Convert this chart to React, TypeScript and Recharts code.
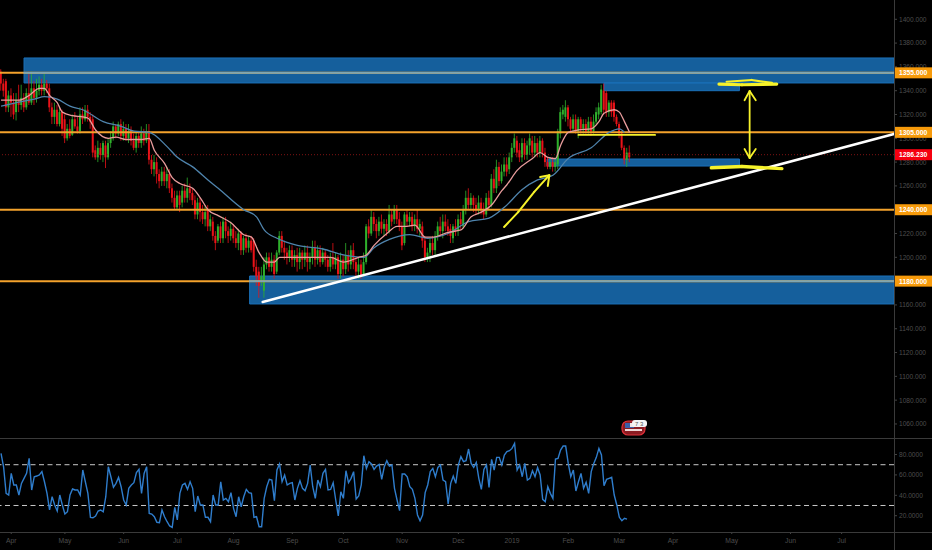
import React from "react";
import {
  ComposedChart,
  Bar,
  Line,
  XAxis,
  YAxis,
  ReferenceLine,
  ReferenceArea,
} from "recharts";

// daily candles, bar 0 is the first bar at the left edge
const opens = [
  1356,1346,1348,1326,1336,1330,1322,1332,1328,1334,
  1326,1338,1330,1342,1334,1340,1345,1340,1346,1342,
  1326,1318,1324,1312,1322,1316,1300,1308,1303,1316,
  1310,1306,1320,1316,1324,1318,1316,1290,1284,1292,
  1286,1294,1284,1296,1300,1310,1304,1312,1302,1308,
  1300,1306,1298,1292,1302,1296,1304,1298,1306,1282,
  1274,1280,1270,1264,1272,1264,1270,1258,1250,1242,
  1252,1246,1256,1250,1258,1254,1248,1236,1246,1238,
  1232,1240,1226,1230,1218,1214,1226,1216,1230,1222,
  1218,1224,1216,1212,1220,1206,1216,1208,1214,1214,
  1192,1188,1180,1172,1194,1200,1192,1198,1188,1204,
  1218,1208,1204,1200,1206,1198,1202,1196,1204,1198,
  1204,1196,1200,1208,1198,1206,1196,1204,1198,1192,
  1200,1194,1200,1186,1198,1190,1202,1194,1206,1196,
  1188,1194,1186,1196,1226,1220,1234,1228,1222,1230,
  1224,1228,1222,1236,1232,1240,1232,1226,1212,1236,
  1230,1234,1226,1232,1224,1226,1214,1200,1204,1212,
  1206,1218,1226,1222,1230,1226,1224,1216,1226,1222,
  1232,1226,1240,1250,1244,1250,1244,1240,1246,1240,
  1236,1250,1244,1266,1258,1276,1264,1272,1278,1274,
  1284,1292,1298,1290,1284,1296,1286,1294,1298,1288,
  1296,1288,1298,1288,1280,1276,1280,1276,1278,1304,
  1320,1318,1326,1316,1308,1316,1306,1316,1308,1312,
  1306,1314,1306,1314,1320,1322,1340,1338,1322,1330,
  1330,1318,1312,1304,1292,1282,1288,
];
const closes = [
  1346,1340,1326,1336,1330,1320,1332,1328,1334,1326,
  1338,1330,1342,1334,1340,1345,1340,1346,1342,1326,
  1318,1324,1312,1322,1308,1300,1308,1302,1316,1310,
  1306,1320,1316,1324,1318,1314,1288,1284,1292,1286,
  1296,1284,1296,1300,1310,1304,1312,1302,1308,1300,
  1306,1298,1292,1302,1296,1304,1298,1306,1282,1274,
  1280,1270,1264,1272,1264,1270,1258,1250,1242,1252,
  1244,1256,1250,1258,1254,1248,1236,1246,1238,1232,
  1238,1226,1232,1218,1212,1226,1216,1230,1222,1218,
  1224,1216,1212,1220,1206,1216,1208,1214,1206,1192,
  1184,1176,1184,1194,1200,1192,1198,1186,1204,1218,
  1208,1204,1200,1206,1198,1202,1196,1204,1198,1204,
  1196,1200,1208,1198,1206,1196,1204,1198,1192,1200,
  1194,1200,1186,1198,1190,1202,1194,1206,1196,1188,
  1194,1184,1196,1226,1220,1234,1228,1222,1230,1224,
  1228,1222,1236,1230,1240,1232,1226,1210,1236,1230,
  1234,1226,1232,1224,1228,1214,1200,1204,1212,1206,
  1218,1226,1222,1230,1226,1222,1218,1226,1222,1232,
  1228,1240,1250,1244,1250,1244,1240,1246,1240,1236,
  1250,1244,1266,1258,1276,1264,1272,1278,1272,1284,
  1292,1300,1288,1284,1296,1286,1294,1300,1288,1296,
  1288,1298,1288,1280,1276,1280,1276,1280,1306,1322,
  1324,1326,1316,1308,1316,1306,1316,1308,1312,1306,
  1314,1306,1314,1322,1326,1341,1324,1322,1330,1322,
  1318,1312,1304,1292,1282,1288,1284,
];
const highs = [
  1358,1350,1350,1340,1342,1338,1338,1345,1345,1338,
  1342,1356,1356,1348,1350,1352,1350,1354,1349,1346,
  1330,1330,1328,1326,1324,1320,1312,1316,1320,1322,
  1318,1326,1326,1328,1328,1322,1320,1294,1298,1296,
  1298,1298,1300,1306,1314,1312,1314,1316,1314,1312,
  1312,1310,1304,1306,1306,1310,1308,1312,1312,1286,
  1286,1284,1274,1276,1276,1276,1274,1262,1256,1256,
  1256,1260,1262,1267,1262,1258,1252,1250,1250,1244,
  1244,1244,1236,1234,1222,1228,1230,1234,1234,1226,
  1230,1228,1222,1224,1222,1218,1220,1218,1218,1216,
  1198,1192,1192,1200,1204,1204,1204,1202,1206,1222,
  1222,1214,1208,1210,1210,1206,1208,1208,1206,1210,
  1210,1204,1214,1214,1210,1210,1208,1206,1202,1204,
  1212,1204,1202,1204,1202,1212,1206,1210,1212,1200,
  1200,1198,1204,1228,1232,1240,1238,1232,1234,1236,
  1232,1232,1244,1240,1244,1244,1238,1230,1238,1240,
  1238,1238,1236,1240,1232,1230,1218,1208,1216,1218,
  1222,1230,1234,1236,1236,1232,1228,1228,1232,1236,
  1238,1244,1256,1258,1254,1252,1250,1252,1250,1246,
  1254,1256,1270,1274,1282,1280,1278,1284,1284,1288,
  1296,1304,1302,1296,1300,1300,1298,1304,1302,1302,
  1300,1302,1300,1292,1284,1284,1284,1284,1308,1326,
  1328,1332,1328,1318,1320,1320,1318,1318,1316,1316,
  1318,1318,1320,1326,1330,1345,1346,1340,1332,1332,
  1332,1320,1314,1306,1294,1292,1294,
];
const lows = [
  1340,1335,1322,1322,1318,1316,1315,1322,1324,1322,
  1324,1328,1328,1328,1330,1336,1336,1336,1338,1322,
  1312,1312,1310,1310,1302,1296,1298,1300,1302,1308,
  1304,1304,1312,1314,1314,1308,1284,1282,1280,1282,
  1280,1275,1282,1292,1298,1300,1302,1298,1298,1298,
  1296,1294,1290,1288,1292,1292,1294,1296,1278,1270,
  1268,1262,1258,1260,1260,1258,1254,1246,1240,1240,
  1238,1242,1246,1246,1248,1244,1232,1232,1230,1228,
  1226,1222,1222,1214,1206,1212,1212,1212,1216,1212,
  1214,1212,1208,1206,1202,1202,1204,1204,1204,1188,
  1176,1166,1176,1166,1190,1188,1188,1182,1186,1202,
  1204,1198,1194,1196,1192,1192,1188,1190,1190,1192,
  1188,1190,1194,1192,1194,1192,1194,1192,1188,1188,
  1190,1190,1182,1182,1184,1186,1188,1190,1190,1184,
  1182,1182,1184,1194,1216,1218,1222,1216,1218,1220,
  1218,1218,1220,1226,1228,1228,1222,1206,1210,1226,
  1226,1222,1222,1220,1218,1208,1196,1196,1196,1202,
  1202,1214,1218,1216,1222,1218,1212,1212,1218,1218,
  1224,1224,1236,1240,1240,1238,1236,1236,1236,1232,
  1234,1240,1242,1254,1254,1260,1262,1268,1268,1270,
  1280,1288,1284,1280,1280,1282,1282,1286,1284,1284,
  1284,1284,1284,1276,1274,1274,1272,1272,1274,1300,
  1316,1314,1310,1306,1306,1304,1300,1304,1304,1304,
  1304,1302,1304,1312,1316,1320,1320,1318,1318,1318,
  1314,1310,1300,1290,1278,1276,1280,
];

// moving averages at their turning points: [bar, price]
const fastMa: [number, number][] = [
  [0,1332],[7,1332],[11,1336],[15,1342],[17,1342],[19,1336],[22,1330],[24,1322],[28,1319],
  [32,1318],[34,1317],[37,1307],[42,1300],[45,1301],[49,1299],[55,1299],[58,1300],[60,1290],
  [64,1279],[67,1267],[70,1262],[75,1258],[78,1250],[81,1240],[85,1235],[90,1229],[95,1219],
  [98,1217],[101,1204],[104,1196],[107,1196],[109,1200],[115,1200],[122,1200],[129,1200],
  [134,1196],[140,1200],[143,1202],[146,1210],[151,1220],[155,1226],[158,1226],[162,1227],
  [166,1217],[169,1217],[175,1221],[180,1223],[184,1234],[188,1238],[192,1244],[196,1256],
  [198,1261],[202,1273],[208,1283],[211,1288],[214,1284],[217,1283],[219,1294],[222,1305],
  [226,1307],[231,1308],[234,1314],[236,1321],[240,1324],[242,1322],[244,1314],[246,1305],
];
const slowMa: [number, number][] = [
  [0,1327],[6,1330],[13,1333],[17,1335],[22,1333],[27,1327],[32,1324],[40,1314],[47,1310],
  [52,1306],[58,1305],[65,1293],[69,1284],[75,1276],[81,1265],[85,1258],[95,1240],[100,1234],
  [103,1223],[108,1216],[116,1210],[126,1207],[134,1202],[142,1200],[146,1208],[152,1215],
  [160,1219],[167,1216],[175,1220],[183,1230],[191,1233],[197,1242],[204,1257],[210,1265],
  [216,1269],[222,1283],[231,1292],[238,1305],[242,1308],[244,1305],
];

const rsiValues = [
  81.1,68,41.9,40.3,61.5,50.1,50.1,40.3,51.7,56.6,
  61.5,76.2,45.2,58.2,58.9,59.9,63.2,53.3,41.9,25.6,
  38.6,30.5,24.6,40.3,30.5,21.6,23.9,40.3,46.2,45.2,
  45.2,40.3,64.8,53.3,41.9,18.4,18,19.7,24.6,25.6,
  23.9,38.6,68,58.2,47.8,51.7,57.6,48.4,35.4,30.5,
  46.8,50.1,52.4,62.2,65.4,41.9,61.5,68,22.3,21.6,
  19,13.5,13.1,25.6,19,14.1,9.9,8.6,28.2,15.8,
  41.9,50.1,51.7,45.8,53.3,46.8,23.9,39.3,30.5,30.5,
  18.4,18.4,14.1,40.3,30.5,30.5,53.3,35.4,37,33.7,
  42.6,27.2,19,38.6,28.8,38.6,45.8,42.6,41.9,18.4,
  19,9.2,9.2,37,48.4,55.6,55,34.7,64.8,70.7,
  53.3,59.9,50.1,51.7,52.4,35.4,46.8,54.3,46.8,44.5,
  51.7,69.7,48.4,37,55,48.4,61.5,65.4,45.2,
  45.8,52.4,35.4,19.7,43.5,37,64.1,52.4,56.6,63.2,
  36.4,39.3,50.1,78.8,66.4,73,70.7,65.4,68.7,70.3,
  55.6,68,73.9,68.7,69.7,46.8,35.4,24.9,60.9,60.9,
  58.2,48.4,45.8,37,20.7,15.1,20.7,42.6,50.1,63.2,
  66.4,58.2,67.4,69.7,55,53.3,31.5,51.7,58.9,51.7,
  69.7,77.9,73,73.9,85.4,71.3,67.4,72.3,56.6,45.8,
  65.4,69.7,47.8,75.2,64.8,77.2,77.2,69.7,79.5,82.8,
  83.7,86,90.9,64.8,69.7,58.2,71.3,55,56.6,64.1,
  58.2,67.1,59.9,36,33.7,48.4,41.9,37,75.6,76.2,
  84.4,88.3,88.3,71.3,58.2,64.8,44.2,53.3,61.5,46.8,
  52.7,41.9,63.2,71.3,77.2,86,79.5,49.4,55.6,56.6,
  57.6,40.3,30.5,18.4,15.1,17.4,16.7,
];

const monthBars = [4, 25, 48, 69, 91, 114, 134, 157, 179, 200, 222, 242, 263, 286, 309, 329];
const monthLabels = ["Apr", "May", "Jun", "Jul", "Aug", "Sep", "Oct", "Nov", "Dec", "2019", "Feb", "Mar", "Apr", "May", "Jun", "Jul"];

const priceTicks = [1400, 1380, 1360, 1340, 1320, 1300, 1280, 1260, 1220, 1200, 1160, 1140, 1120, 1100, 1080, 1060];
const orangeLevels = [1355, 1305, 1240, 1180];
const lastPrice = 1286.23;
const rsiTicks = [80, 60, 40, 20];
const rsiBands = [70, 30];

const WIDTH = 932;
const MAIN_HEIGHT = 438;
const RSI_HEIGHT = 112;
const AXIS_WIDTH = 38;
const BAR_DOMAIN: [number, number] = [-0.4, 349.5];

const GREEN = "#2fb02c";
const RED = "#ea1218";
const BOX_BLUE = "#1766a8";
const YELLOW = "#f6f22a";
const AXIS_TEXT = "#4d4d4d";
const FONT = "'Liberation Sans', Arial, sans-serif";

const maLookup = (pts: [number, number][]) => new Map(pts.map(([b, v]) => [b, v]));
const fastByBar = maLookup(fastMa);
const slowByBar = maLookup(slowMa);

const rows = closes.map((close, i) => ({
  bar: i,
  open: opens[i],
  close,
  range: [lows[i], highs[i]],
  fast: fastByBar.get(i) ?? null,
  slow: slowByBar.get(i) ?? null,
}));

const rsiRows = rsiValues.map((rsi, i) => ({ bar: i, rsi }));

// body and wick from the pixel box the bar scale gives for [low, high]
const Candle = (props: any) => {
  const { x, y, width, height, payload } = props;
  const [low, high] = payload.range;
  const perUnit = height / (high - low || 1);
  const top = y + (high - Math.max(payload.open, payload.close)) * perUnit;
  const bodyH = Math.max(Math.abs(payload.open - payload.close) * perUnit, 1);
  const color = payload.close >= payload.open ? GREEN : RED;
  const mid = x + width / 2;
  return (
    <g>
      <line x1={mid} x2={mid} y1={y} y2={y + height} stroke={color} strokeWidth={0.8} />
      <rect x={x} y={top} width={width} height={bodyH} fill={color} />
    </g>
  );
};

const PriceTick = (props: any) => {
  const { x, y, payload } = props;
  const v = payload.value;
  const isOrange = orangeLevels.includes(v);
  const isLast = v === lastPrice;
  if (isOrange || isLast) {
    return (
      <g>
        <rect x={x - 5} y={y - 5.5} width={38} height={11} fill={isLast ? "#f5000f" : "#f79a0a"} />
        <text x={x} y={y + 2.4} fontSize={6.8} fontFamily={FONT} fontWeight={700} fill="#fff">
          {v.toFixed(3)}
        </text>
      </g>
    );
  }
  return (
    <text x={x} y={y + 2.4} fontSize={6.6} fontFamily={FONT} fill={AXIS_TEXT}>
      {v.toFixed(3)}
    </text>
  );
};

const RsiTick = (props: any) => {
  const { x, y, payload } = props;
  return (
    <text x={x} y={y + 2.4} fontSize={6.6} fontFamily={FONT} fill={AXIS_TEXT}>
      {payload.value.toFixed(4)}
    </text>
  );
};

// hand drawn marks, in [bar, price]
const polyline = (key: string, pts: number[][], stroke: string, width: number) =>
  pts.slice(1).map((p, i) => (
    <ReferenceLine
      key={`${key}-${i}`}
      segment={[
        { x: pts[i][0], y: pts[i][1] },
        { x: p[0], y: p[1] },
      ]}
      stroke={stroke}
      strokeWidth={width}
      strokeLinecap="round"
    />
  ));

const MONTH_LABEL = new Map(monthBars.map((b, i) => [b, monthLabels[i]]));

const Badge = () => (
  <svg style={{ position: "absolute", left: 620, top: 418 }} width={30} height={20}>
    <rect x={2} y={3} width={23} height={14} rx={6} fill="#8b1c22" stroke="#e0303a" strokeWidth={1.2} />
    <rect x={5} y={5} width={9} height={5} fill="#3b5fa8" />
    <rect x={10} y={5} width={12} height={4} fill="#f2e4e4" />
    <rect x={5} y={11} width={17} height={2} fill="#f0d8d8" />
    <rect x={12} y={2} width={15} height={7} rx={3} fill="#f4f4f4" />
    <text x={15} y={8} fontSize={6} fontFamily={FONT} fill="#555">7 3</text>
  </svg>
);

export default function App() {
  return (
    <div style={{ position: "relative", width: WIDTH, height: 550, background: "#000", overflow: "hidden" }}>
      <style>{"body{margin:0;background:#000}"}</style>
      <ComposedChart
        width={WIDTH}
        height={MAIN_HEIGHT}
        data={rows}
        margin={{ top: 0, right: 0, bottom: 0, left: 0 }}
        barCategoryGap={0}
      >
        <XAxis dataKey="bar" type="number" domain={BAR_DOMAIN} allowDataOverflow hide />
        <YAxis
          orientation="right"
          width={AXIS_WIDTH}
          domain={[1048.2, 1416.2]}
          allowDataOverflow
          ticks={[...priceTicks, ...orangeLevels, lastPrice]}
          interval={0}
          axisLine={false}
          tickLine={{ stroke: "#444" }}
          tickSize={3}
          tickMargin={2}
          tick={<PriceTick />}
        />
        {orangeLevels.map((lvl) => (
          <ReferenceLine key={lvl} y={lvl} stroke="#f3a22c" strokeWidth={2} />
        ))}
        <ReferenceLine y={lastPrice} stroke="#a01818" strokeWidth={0.8} strokeDasharray="1 2" />
        <Bar dataKey="range" barSize={2} shape={<Candle />} activeBar={false} isAnimationActive={false} />
        <Line dataKey="slow" type="monotone" connectNulls dot={false} activeDot={false} stroke="#4f84ad" strokeWidth={1.3} isAnimationActive={false} />
        <Line dataKey="fast" type="monotone" connectNulls dot={false} activeDot={false} stroke="#e89c9c" strokeWidth={1.3} isAnimationActive={false} />

        <ReferenceArea x1={9} x2={349.5} y1={1346.5} y2={1367.5} fill={BOX_BLUE} fillOpacity={0.93} stroke="#1b70b8" />
        <ReferenceArea x1={236} x2={289} y1={1340} y2={1346.5} fill={BOX_BLUE} fillOpacity={0.93} stroke="#1b70b8" />
        <ReferenceArea x1={213.7} x2={289} y1={1276.7} y2={1282.6} fill={BOX_BLUE} fillOpacity={0.93} stroke="#1b70b8" />
        <ReferenceArea x1={97.3} x2={349.5} y1={1160.8} y2={1184.3} fill={BOX_BLUE} fillOpacity={0.93} stroke="#1b70b8" />
        {polyline("g1", [[9, 1355], [349.5, 1355]], "#7ea6b3", 1.6)}
        {polyline("g2", [[97.3, 1180], [349.5, 1180]], "#7ea6b3", 1.6)}

        {polyline("trend", [[102.4, 1162.5], [349.5, 1303.6]], "#ffffff", 2.5)}
        {polyline("hline", [[226, 1302.8], [256, 1302.8]], YELLOW, 1.8)}
        {polyline("arrow", [[196.9, 1225.5], [202.4, 1238], [208.7, 1255], [214.6, 1269]], YELLOW, 2)}
        {polyline("arrowHead", [[211, 1267.5], [214.6, 1269], [214, 1260]], YELLOW, 2)}
        {polyline("range", [[293, 1339.7], [293, 1283.4]], YELLOW, 1.8)}
        {polyline("rangeTop", [[291, 1332], [293, 1339.7], [295.4, 1332]], YELLOW, 1.8)}
        {polyline("rangeBot", [[291, 1291], [293, 1283.4], [295.4, 1291]], YELLOW, 1.8)}
        {polyline("scribA", [[281, 1345.6], [290, 1345], [303.6, 1345.6]], YELLOW, 3.2)}
        {polyline("scribA2", [[284, 1347.5], [293.8, 1349], [301.7, 1346.5]], YELLOW, 2.2)}
        {polyline("scribB", [[278, 1275.2], [290, 1276.3], [305.6, 1274.5]], YELLOW, 3.4)}
      </ComposedChart>

      <div style={{ position: "absolute", left: 0, top: MAIN_HEIGHT }}>
        <ComposedChart
          width={WIDTH}
          height={RSI_HEIGHT}
          data={rsiRows}
          margin={{ top: 0, right: 0, bottom: 0, left: 0 }}
        >
          <XAxis
            dataKey="bar"
            type="number"
            domain={BAR_DOMAIN}
            allowDataOverflow
            ticks={monthBars}
            interval={0}
            height={18}
            axisLine={false}
            tickLine={{ stroke: "#444" }}
            tickSize={2}
            tickMargin={4}
            tick={{ fontSize: 6.8, fontFamily: FONT, fill: AXIS_TEXT }}
            tickFormatter={(b: number) => MONTH_LABEL.get(b) ?? ""}
          />
          <YAxis
            orientation="right"
            width={AXIS_WIDTH}
            domain={[4, 96.2]}
            allowDataOverflow
            ticks={rsiTicks}
            interval={0}
            axisLine={false}
            tickLine={{ stroke: "#444" }}
            tickSize={3}
            tickMargin={2}
            tick={<RsiTick />}
          />
          {rsiBands.map((b) => (
            <ReferenceLine key={b} y={b} stroke="#c8c8c8" strokeWidth={1} strokeDasharray="5 3.5" />
          ))}
          <Line dataKey="rsi" type="linear" dot={false} activeDot={false} stroke="#2f7dcc" strokeWidth={1.4} isAnimationActive={false} />
        </ComposedChart>
      </div>

      {/* pane separators and price scale border */}
      <div style={{ position: "absolute", left: 0, top: MAIN_HEIGHT, width: WIDTH, height: 1, background: "#3a3a3a" }} />
      <div style={{ position: "absolute", left: 0, top: 532, width: WIDTH, height: 1, background: "#3a3a3a" }} />
      <div style={{ position: "absolute", left: 894, top: 0, width: 1, height: 550, background: "#3a3a3a" }} />
      <Badge />
    </div>
  );
}
